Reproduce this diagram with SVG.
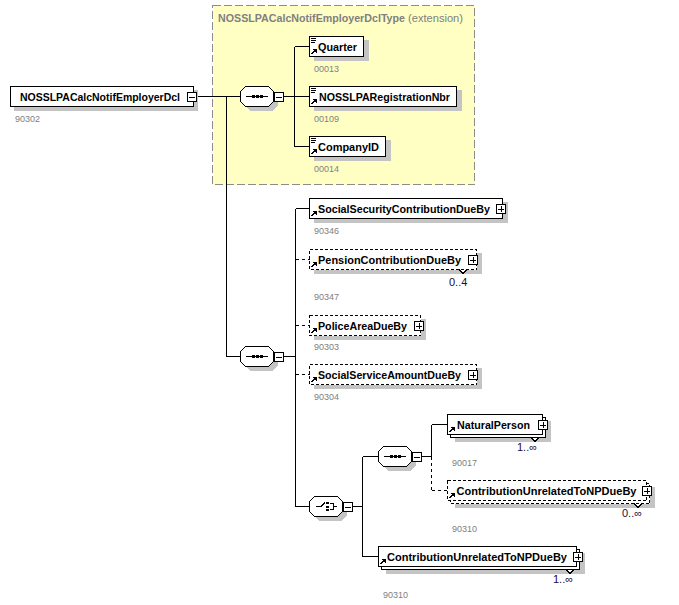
<svg xmlns="http://www.w3.org/2000/svg" width="679" height="605" viewBox="0 0 679 605">
<defs>
<style>
.bg{fill:#ffffff}
.ext{fill:#ffffc4;stroke:#8c8c8c;stroke-width:1;stroke-dasharray:8,3}
.sh{fill:#c4c4c4;stroke:none}
.box{fill:#ffffff;stroke:#000000;stroke-width:1}
.dbox{fill:#ffffff;stroke:#000000;stroke-width:1;stroke-dasharray:3,2}
.pm{fill:#ffffff;stroke:#000000;stroke-width:1}
.ln{fill:none;stroke:#000000;stroke-width:1}
.dln{fill:none;stroke:#000000;stroke-width:1;stroke-dasharray:3,3}
.dot{fill:#000000}
.lbl{font-family:"Liberation Sans",Arial,sans-serif;font-size:11px;font-weight:bold;fill:#000000}
.num{font-family:"Liberation Sans",Arial,sans-serif;font-size:9px;fill:#808080}
.mul{font-family:"Liberation Sans",Arial,sans-serif;font-size:11px;fill:#1a0a3a}
.ttl{font-family:"Liberation Sans",Arial,sans-serif;font-size:11px;font-weight:bold;fill:#808080}
.ttn{font-family:"Liberation Sans",Arial,sans-serif;font-size:11px;fill:#808080}
rect,line,polyline,polygon,path{shape-rendering:crispEdges}
</style>
<g id="refArrow">
<line class="ln" x1="2.5" y1="18" x2="6" y2="14.5"/>
<polygon class="dot" points="3.5,13 7.5,13 7.5,17"/>
</g>
<g id="simpleIcon">
<line class="ln" x1="2" y1="2.5" x2="7" y2="2.5"/>
<line class="ln" x1="2" y1="4.5" x2="7" y2="4.5"/>
<line class="ln" x1="2" y1="6.5" x2="6" y2="6.5"/>
</g>
<g id="minus">
<rect class="pm" x="0.5" y="0.5" width="9" height="9"/>
<line class="ln" x1="2" y1="5" x2="8" y2="5"/>
</g>
<g id="plus">
<rect class="pm" x="0.5" y="0.5" width="9" height="9"/>
<line class="ln" x1="2" y1="5" x2="8" y2="5"/>
<line class="ln" x1="5" y1="2" x2="5" y2="8"/>
</g>
<polygon id="oct" points="5.5,0.5 28.5,0.5 33.5,5.5 33.5,15.5 28.5,20.5 5.5,20.5 0.5,15.5 0.5,5.5"/>
<g id="seqIcon">
<line class="ln" x1="6" y1="10.5" x2="28" y2="10.5"/>
<rect class="dot" x="12" y="9" width="3" height="3"/>
<rect class="dot" x="16" y="9" width="3" height="3"/>
<rect class="dot" x="20" y="9" width="3" height="3"/>
</g>
<g id="choiceIcon">
<line class="ln" x1="7" y1="10.5" x2="12" y2="10.5"/>
<line class="ln" x1="12" y1="10.5" x2="16" y2="6.5"/>
<rect class="dot" x="17" y="6" width="3" height="2"/>
<rect class="dot" x="17" y="9.5" width="3" height="2"/>
<rect class="dot" x="17" y="13" width="3" height="2"/>
<polyline class="ln" points="21,7.5 24.5,7.5 24.5,13.5 21,13.5"/>
<line class="ln" x1="24.5" y1="10.5" x2="28" y2="10.5"/>
</g>
</defs>
<rect class="bg" x="0" y="0" width="679" height="605"/>

<g id="extension">
<rect class="ext" x="212.5" y="5.5" width="262" height="179"/>
<text class="ttl" x="218" y="22" textLength="187" lengthAdjust="spacingAndGlyphs">NOSSLPACalcNotifEmployerDclType</text>
<text class="ttn" x="408" y="22" textLength="55" lengthAdjust="spacingAndGlyphs">(extension)</text>
</g>

<g id="connectors">
<line class="ln" x1="197" y1="96.5" x2="240.5" y2="96.5"/>
<polyline class="ln" points="226.5,96.5 226.5,356.5 240.5,356.5"/>
<line class="ln" x1="283.5" y1="96.5" x2="294.5" y2="96.5"/>
<line class="ln" x1="294.5" y1="46.5" x2="294.5" y2="146.5"/>
<line class="ln" x1="294.5" y1="46.5" x2="309.5" y2="46.5"/>
<line class="ln" x1="294.5" y1="96.5" x2="309.5" y2="96.5"/>
<line class="ln" x1="294.5" y1="146.5" x2="309.5" y2="146.5"/>
<line class="ln" x1="283.5" y1="356.5" x2="295.5" y2="356.5"/>
<line class="ln" x1="295.5" y1="208.5" x2="295.5" y2="506.5"/>
<line class="ln" x1="295.5" y1="208.5" x2="309.5" y2="208.5"/>
<line class="dln" x1="295.5" y1="259.5" x2="309.5" y2="259.5"/>
<line class="dln" x1="295.5" y1="325.5" x2="309.5" y2="325.5"/>
<line class="dln" x1="295.5" y1="374.5" x2="309.5" y2="374.5"/>
<line class="ln" x1="295.5" y1="506.5" x2="309.5" y2="506.5"/>
<line class="ln" x1="352.5" y1="506.5" x2="362.5" y2="506.5"/>
<line class="ln" x1="362.5" y1="456.5" x2="362.5" y2="556.5"/>
<line class="ln" x1="362.5" y1="456.5" x2="378.5" y2="456.5"/>
<line class="ln" x1="362.5" y1="556.5" x2="378.5" y2="556.5"/>
<line class="ln" x1="421.5" y1="456.5" x2="431.5" y2="456.5"/>
<line class="ln" x1="431.5" y1="424.5" x2="431.5" y2="456.5"/>
<line class="dln" x1="431.5" y1="456.5" x2="431.5" y2="490.5"/>
<line class="ln" x1="431.5" y1="424.5" x2="447.5" y2="424.5"/>
<line class="dln" x1="431.5" y1="490.5" x2="447.5" y2="490.5"/>
</g>

<g id="root" transform="translate(10,86)">
<rect class="sh" x="4" y="4" width="184" height="21"/>
<rect class="box" x="0.5" y="0.5" width="183" height="20"/>
<text class="lbl" x="10" y="15" textLength="160" lengthAdjust="spacingAndGlyphs">NOSSLPACalcNotifEmployerDcl</text>
<use href="#minus" x="177" y="6"/>
<text class="num" x="5" y="36">90302</text>
</g>

<g id="seq1" transform="translate(240,86)">
<use href="#oct" class="sh" x="4" y="4"/>
<use href="#oct" class="box"/>
<use href="#seqIcon"/>
<use href="#minus" x="34" y="6"/>
</g>

<g id="quarter" transform="translate(309,36)">
<rect class="sh" x="5" y="4" width="55" height="21"/>
<rect class="box" x="0.5" y="0.5" width="54" height="20"/>
<use href="#simpleIcon"/>
<use href="#refArrow"/>
<text class="lbl" x="9" y="14.5" textLength="39" lengthAdjust="spacingAndGlyphs">Quarter</text>
<text class="num" x="5" y="36">00013</text>
</g>

<g id="regnbr" transform="translate(309,86)">
<rect class="sh" x="5" y="4" width="148" height="21"/>
<rect class="box" x="0.5" y="0.5" width="147" height="20"/>
<use href="#simpleIcon"/>
<use href="#refArrow"/>
<text class="lbl" x="10" y="14.5" textLength="131" lengthAdjust="spacingAndGlyphs">NOSSLPARegistrationNbr</text>
<text class="num" x="5" y="36">00109</text>
</g>

<g id="companyid" transform="translate(309,136)">
<rect class="sh" x="5" y="4" width="77" height="21"/>
<rect class="box" x="0.5" y="0.5" width="76" height="20"/>
<use href="#simpleIcon"/>
<use href="#refArrow"/>
<text class="lbl" x="9" y="14.5" textLength="61" lengthAdjust="spacingAndGlyphs">CompanyID</text>
<text class="num" x="5" y="36">00014</text>
</g>

<g id="seq2" transform="translate(240,346)">
<use href="#oct" class="sh" x="4" y="4"/>
<use href="#oct" class="box"/>
<use href="#seqIcon"/>
<use href="#minus" x="34" y="6"/>
</g>

<g id="socsec" transform="translate(309,198)">
<rect class="sh" x="5" y="4" width="194" height="21"/>
<rect class="box" x="0.5" y="0.5" width="193" height="20"/>
<use href="#refArrow"/>
<text class="lbl" x="9" y="14.5" textLength="172" lengthAdjust="spacingAndGlyphs">SocialSecurityContributionDueBy</text>
<use href="#plus" x="187" y="6"/>
<text class="num" x="5" y="36">90346</text>
</g>

<g id="pension" transform="translate(309,249)">
<rect class="sh" x="5" y="4" width="168" height="21"/>
<rect class="dbox" x="0.5" y="0.5" width="167" height="20"/>
<use href="#refArrow"/>
<text class="lbl" x="9" y="14.5" textLength="143" lengthAdjust="spacingAndGlyphs">PensionContributionDueBy</text>
<use href="#plus" x="159" y="6"/>
<polyline class="box" points="150,20.5 154,24.5 158,20.5"/>
<text class="mul" x="140" y="37">0..4</text>
<text class="num" x="5" y="51">90347</text>
</g>

<g id="police" transform="translate(309,315)">
<rect class="sh" x="5" y="4" width="112" height="21"/>
<rect class="dbox" x="0.5" y="0.5" width="111" height="20"/>
<use href="#refArrow"/>
<text class="lbl" x="9" y="14.5" textLength="89" lengthAdjust="spacingAndGlyphs">PoliceAreaDueBy</text>
<use href="#plus" x="105" y="6"/>
<text class="num" x="5" y="35">90303</text>
</g>

<g id="socserv" transform="translate(309,364)">
<rect class="sh" x="5" y="4" width="168" height="21"/>
<rect class="dbox" x="0.5" y="0.5" width="167" height="20"/>
<use href="#refArrow"/>
<text class="lbl" x="9" y="14.5" textLength="143" lengthAdjust="spacingAndGlyphs">SocialServiceAmountDueBy</text>
<use href="#plus" x="159" y="6"/>
<text class="num" x="5" y="36">90304</text>
</g>

<g id="choice" transform="translate(309,496)">
<use href="#oct" class="sh" x="4" y="4"/>
<use href="#oct" class="box"/>
<use href="#choiceIcon"/>
<use href="#minus" x="34" y="6"/>
</g>

<g id="seq3" transform="translate(378,446)">
<use href="#oct" class="sh" x="4" y="4"/>
<use href="#oct" class="box"/>
<use href="#seqIcon"/>
<use href="#minus" x="34" y="6"/>
</g>

<g id="natural" transform="translate(447,414)">
<rect class="sh" x="8" y="7" width="96" height="21"/>
<rect class="box" x="3.5" y="3.5" width="95" height="20"/>
<rect class="box" x="0.5" y="0.5" width="95" height="20"/>
<use href="#refArrow"/>
<text class="lbl" x="10" y="14.5" textLength="73" lengthAdjust="spacingAndGlyphs">NaturalPerson</text>
<use href="#plus" x="91" y="6"/>
<polyline class="box" points="84,23.5 88,27.5 92,23.5"/>
<text class="mul" x="70" y="37">1..∞</text>
<text class="num" x="5" y="52">90017</text>
</g>

<g id="cu-optional" transform="translate(447,480)">
<rect class="sh" x="8" y="7" width="200" height="21"/>
<rect class="dbox" x="3.5" y="3.5" width="199" height="20"/>
<rect class="dbox" x="0.5" y="0.5" width="199" height="20"/>
<use href="#refArrow"/>
<text class="lbl" x="9.5" y="14.5" textLength="180" lengthAdjust="spacingAndGlyphs">ContributionUnrelatedToNPDueBy</text>
<use href="#plus" x="195" y="6"/>
<polyline class="box" points="187,23.5 191,27.5 195,23.5"/>
<text class="mul" x="175" y="37">0..∞</text>
<text class="num" x="5" y="52">90310</text>
</g>

<g id="cu-required" transform="translate(378,546)">
<rect class="sh" x="8" y="7" width="199" height="21"/>
<rect class="box" x="3.5" y="3.5" width="198" height="20"/>
<rect class="box" x="0.5" y="0.5" width="198" height="20"/>
<use href="#refArrow"/>
<text class="lbl" x="9" y="14.5" textLength="180" lengthAdjust="spacingAndGlyphs">ContributionUnrelatedToNPDueBy</text>
<use href="#plus" x="195" y="6"/>
<polyline class="box" points="188,23.5 192,27.5 196,23.5"/>
<text class="mul" x="175" y="37">1..∞</text>
<text class="num" x="5" y="52">90310</text>
</g>
</svg>
